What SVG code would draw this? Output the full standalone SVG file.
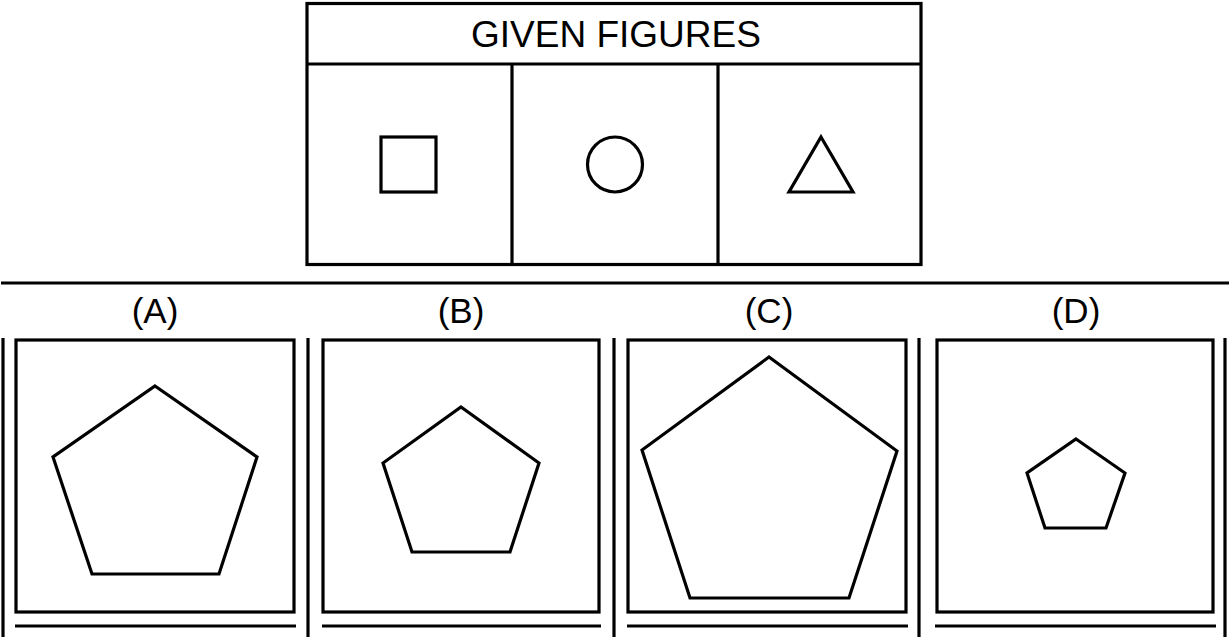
<svg xmlns="http://www.w3.org/2000/svg" width="1229" height="637" viewBox="0 0 1229 637">
<style>
.s{fill:none;stroke:#000;stroke-width:3.2}
.t{font-family:"Liberation Sans",Arial,sans-serif;fill:#000;text-anchor:middle}
</style>
<rect width="1229" height="637" fill="#fff"/>
<g id="given">
<rect class="s" x="307" y="3.5" width="614" height="261"/>
<line class="s" x1="307" y1="64" x2="921" y2="64"/>
<line class="s" x1="512" y1="64" x2="512" y2="264"/>
<line class="s" x1="718" y1="64" x2="718" y2="264"/>
<text class="t" x="616" y="47" font-size="37">GIVEN FIGURES</text>
<rect class="s" x="381" y="137" width="55" height="55"/>
<circle class="s" cx="615" cy="164.5" r="27.5"/>
<polygon class="s" points="821,137 853,192 789,192"/>
</g>
<line class="s" x1="1" y1="283" x2="1229" y2="283"/>
<g id="dividers">
<line class="s" x1="3" y1="338" x2="3" y2="637"/>
<line class="s" x1="308" y1="338" x2="308" y2="637"/>
<line class="s" x1="614" y1="338" x2="614" y2="637"/>
<line class="s" x1="919" y1="338" x2="919" y2="637"/>
<line class="s" x1="1225" y1="338" x2="1225" y2="637"/>
</g>
<g id="optA">
<text class="t" x="155" y="323" font-size="35">(A)</text>
<rect class="s" x="16" y="340" width="278" height="272"/>
<line class="s" x1="15" y1="626" x2="296" y2="626"/>
<polygon class="s" points="155,386 257,457 219,574 92,574 53,457"/>
</g>
<g id="optB">
<text class="t" x="461" y="323" font-size="35">(B)</text>
<rect class="s" x="323" y="340" width="276" height="272"/>
<line class="s" x1="322" y1="626" x2="601" y2="626"/>
<polygon class="s" points="461,407 539,463 510,552 412,552 383,463"/>
</g>
<g id="optC">
<text class="t" x="769" y="323" font-size="35">(C)</text>
<rect class="s" x="628" y="340" width="278" height="272"/>
<line class="s" x1="627" y1="626" x2="908" y2="626"/>
<polygon class="s" points="769,357 897,451 849,598 690,598 642,450"/>
</g>
<g id="optD">
<text class="t" x="1076" y="323" font-size="35">(D)</text>
<rect class="s" x="937" y="340" width="276" height="272"/>
<line class="s" x1="935" y1="626" x2="1216" y2="626"/>
<polygon class="s" points="1076,439 1125,473 1106,528 1045,528 1027,473"/>
</g>
</svg>
